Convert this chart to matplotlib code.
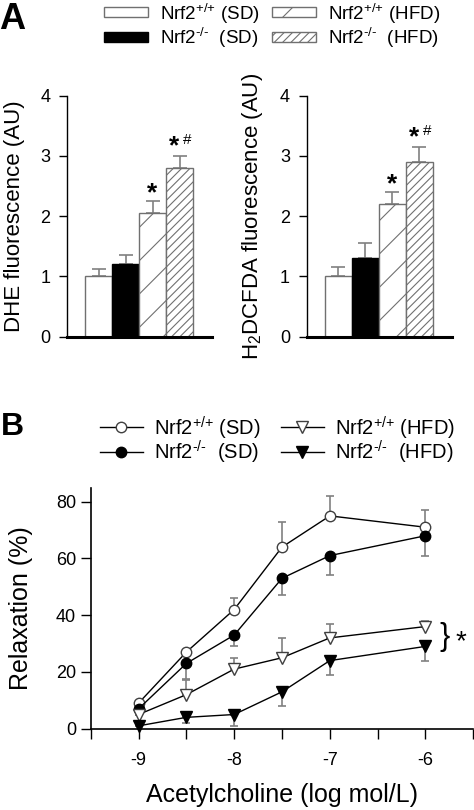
import matplotlib
matplotlib.use("Agg")
import matplotlib.pyplot as plt
from matplotlib.patches import Rectangle
from matplotlib.lines import Line2D

plt.rcParams['font.family'] = ['Liberation Sans', 'DejaVu Sans']
plt.rcParams['mathtext.fontset'] = 'custom'
plt.rcParams['mathtext.rm'] = 'Liberation Sans'
plt.rcParams['mathtext.it'] = 'Liberation Sans:italic'
plt.rcParams['mathtext.bf'] = 'Liberation Sans:bold'
plt.rcParams['hatch.linewidth'] = 0.8

# ---- data ----
groups = [r'Nrf2$^{\text{+/+}}$ (SD)', r'Nrf2$^{\text{-/-}}$  (SD)',
          r'Nrf2$^{\text{+/+}}$ (HFD)', r'Nrf2$^{\text{-/-}}$  (HFD)']
dhe = [1.0, 1.2, 2.05, 2.8]
dhe_err = [0.13, 0.15, 0.2, 0.2]
dcf = [1.0, 1.3, 2.2, 2.9]
dcf_err = [0.15, 0.26, 0.2, 0.25]
dhe_marks = ['', '', '*', '*#']
dcf_marks = ['', '', '*', '*#']

ach = [-9, -8.5, -8, -7.5, -7, -6]
wt_sd = [9, 27, 42, 64, 75, 71]
wt_sd_err = [0, 0, 4, 9, 7, 6]
ko_sd = [7, 23, 33, 53, 61, 68]
ko_sd_err = [0, 5.5, 4, 6, 7, 7]
wt_hfd = [5, 12, 21, 25, 32, 36]
wt_hfd_err = [0, 5, 4, 7, 5, 2]
ko_hfd = [1, 4, 5, 13, 24, 29]
ko_hfd_err = [0, 2, 4, 5, 5, 5]

# ---- styles ----
bar_face = ['white', 'black', 'white', 'white']
bar_edge = ['#707070', 'black', '#707070', '#707070']
bar_hatch = [None, None, '/', '////']
err_col = '#808080'

W, H = 474, 810
fig = plt.figure(figsize=(W / 100, H / 100), dpi=100)


def px_ax(x0, y_top, w, h):
    return fig.add_axes([x0 / W, 1 - (y_top + h) / H, w / W, h / H])


def bar_panel(ax, vals, errs, marks, ylabel):
    xs = [1, 2, 3, 4]
    for i in range(4):
        ax.bar(xs[i], vals[i], width=1, color=bar_face[i], edgecolor=bar_edge[i],
               hatch=bar_hatch[i], linewidth=1, zorder=2)
    ax.errorbar(xs, vals, yerr=[[0] * 4, errs], fmt='none', ecolor=err_col,
                elinewidth=1.2, capsize=5, capthick=1.2, zorder=1)
    for i in range(4):
        m = marks[i]
        if not m:
            continue
        top = vals[i] + errs[i]
        if m == '*':
            ax.text(xs[i], top + 0.02, '*', ha='center', va='baseline',
                    fontsize=19, fontweight='bold')
        else:
            ax.text(xs[i] - 0.19, top + 0.04, '*', ha='center', va='baseline',
                    fontsize=19, fontweight='bold')
            ax.text(xs[i] + 0.3, top + 0.2, '#', ha='center', va='baseline',
                    fontsize=11)
    ax.set_xlim(-0.167, 5.2)
    ax.set_ylim(0, 4)
    ax.set_yticks([0, 1, 2, 3, 4])
    ax.set_xticks([])
    ax.spines['top'].set_visible(False)
    ax.spines['right'].set_visible(False)
    ax.spines['bottom'].set_linewidth(2.2)
    ax.spines['left'].set_linewidth(1.0)
    ax.tick_params(axis='y', labelsize=13, length=6, width=1, pad=6)
    ax.set_ylabel(ylabel, fontsize=16)
    ax.yaxis.set_label_coords(-0.29, 0.5)


axA1 = px_ax(67, 95.7, 145, 241)
bar_panel(axA1, dhe, dhe_err, dhe_marks, 'DHE fluorescence (AU)')
axA2 = px_ax(306.7, 95.7, 145, 241)
bar_panel(axA2, dcf, dcf_err, dcf_marks, r'H$_2$DCFDA fluorescence (AU)')

# ---- panel B ----
axB = px_ax(90.7, 487.5, 382.6, 241.2)
line_styles = [
    (wt_sd, wt_sd_err, 'o', 'white', 1),
    (ko_sd, ko_sd_err, 'o', 'black', -1),
    (wt_hfd, wt_hfd_err, 'v', 'white', 1),
    (ko_hfd, ko_hfd_err, 'v', 'black', -1),
]
for vals, errs, mk, fc, d in line_styles:
    if d > 0:
        yerr = [[0] * len(errs), errs]
    else:
        yerr = [errs, [0] * len(errs)]
    axB.errorbar(ach, vals, yerr=yerr, fmt='none', ecolor=err_col,
                 elinewidth=1.2, capsize=3, capthick=1.2, zorder=1)
    axB.plot(ach, vals, color='black', linewidth=1, marker=mk,
             markersize=7.5 if mk == 'o' else 8.5, markerfacecolor=fc,
             markeredgecolor='black' if fc == 'black' else '#404040',
             markeredgewidth=1, zorder=3, clip_on=False)

axB.set_xlim(-9.5, -5.5)
axB.set_ylim(0, 85)
axB.set_xticks([-9.5, -9, -8.5, -8, -7.5, -7, -6.5, -6, -5.5])
axB.set_xticklabels(['', '-9', '', '-8', '', '-7', '', '-6', ''])
axB.set_yticks([0, 20, 40, 60, 80])
axB.spines['top'].set_visible(False)
axB.spines['right'].set_visible(False)
axB.spines['bottom'].set_linewidth(1.2)
axB.spines['left'].set_linewidth(1.2)
axB.tick_params(labelsize=13, length=7, width=1)
axB.tick_params(axis='x', pad=10)
axB.set_ylabel('Relaxation (%)', fontsize=18)
axB.yaxis.set_label_coords(-0.151, 0.5)
axB.set_xlabel('Acetylcholine (log mol/L)', fontsize=18)
axB.xaxis.set_label_coords(0.5, -0.225)
axB.text(-5.8, 32.3, '}', fontsize=22, ha='center', va='center', clip_on=False)
axB.text(-5.63, 30.5, '*', fontsize=20, ha='center', va='center', clip_on=False)

# ---- overlay for panel letters and legends (pixel coords) ----
lay = fig.add_axes([0, 0, 1, 1], zorder=-1)
lay.set_xlim(0, W)
lay.set_ylim(H, 0)
lay.axis('off')

lay.text(-1, 29, 'A', fontsize=26, fontweight='bold', va='baseline', ha='left')
lay.text(1, 435, 'B', fontsize=23, fontweight='bold', va='baseline', ha='left')

legA_x = [104, 104, 272, 272]
legA_y = [12.3, 36.7, 12.3, 36.7]
for i in range(4):
    lay.add_patch(Rectangle((legA_x[i], legA_y[i] - 5), 44, 10,
                            facecolor=bar_face[i], edgecolor=bar_edge[i],
                            hatch=bar_hatch[i], linewidth=1))
    lay.text(legA_x[i] + 56, legA_y[i] + 7.5, groups[i], fontsize=13.5,
             va='baseline', ha='left')

legB_x = [100, 100, 281, 281]
legB_y = [427, 452, 427, 452]
for i in range(4):
    vals, errs, mk, fc, d = line_styles[i]
    lay.add_line(Line2D([legB_x[i], legB_x[i] + 43], [legB_y[i], legB_y[i]],
                        color='black', linewidth=1))
    lay.add_line(Line2D([legB_x[i] + 21.5], [legB_y[i]], marker=mk,
                        markersize=7.5 if mk == 'o' else 8.5,
                        markerfacecolor=fc, markeredgecolor='black' if fc == 'black' else '#404040',
                        markeredgewidth=1, linestyle='none'))
    lay.text(legB_x[i] + 54, legB_y[i] + 8, groups[i], fontsize=14.5,
             va='baseline', ha='left')

fig.savefig('out.png', dpi=100)
